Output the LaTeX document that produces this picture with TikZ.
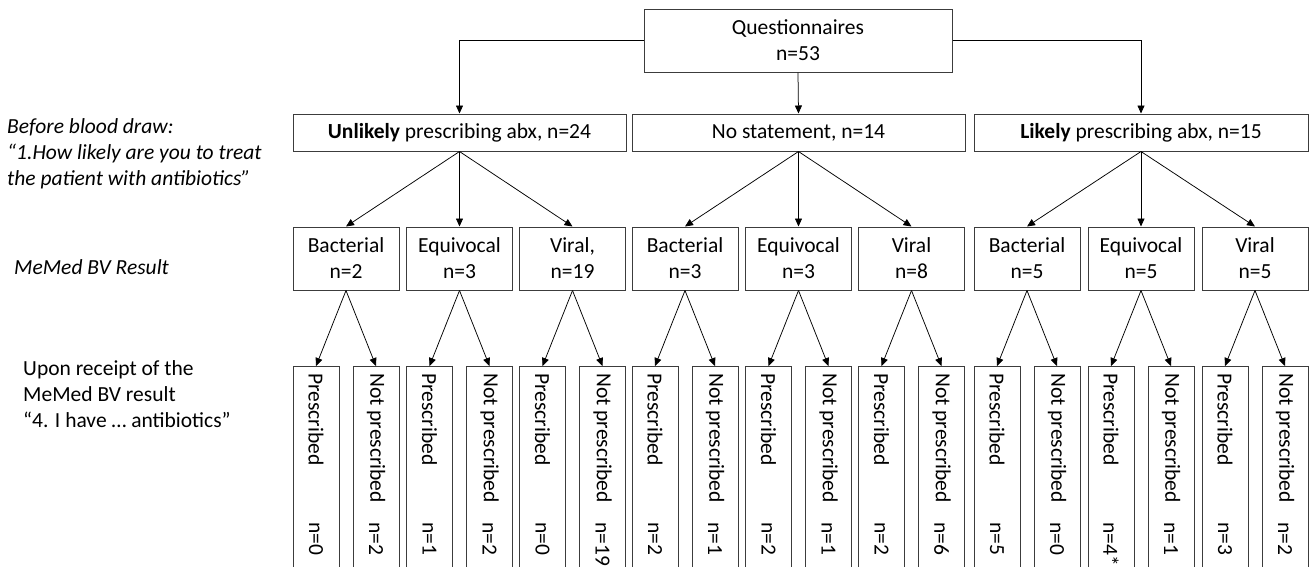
\documentclass[tikz,border=0pt]{standalone}
\usepackage{fontspec}
\setmainfont{Carlito}
\usetikzlibrary{arrows.meta}
\definecolor{boxline}{RGB}{60,60,60}
\tikzset{box/.style={draw=boxline,line width=1pt,minimum height=37,align=center,inner sep=0pt},
 tall/.style={draw=boxline,line width=1pt,minimum width=46,minimum height=240,anchor=north,inner sep=0pt},
 conn/.style={-{Triangle[length=8pt,width=7pt]},line width=0.75pt},
 vtext/.style={rotate=-90,anchor=west,inner sep=0pt},
 note/.style={anchor=west,align=left,inner sep=0pt,font=\fontsize{21.5}{26}\selectfont\itshape},
 every node/.style={font=\fontsize{21.5}{26}\selectfont}}

\begin{document}
\begin{tikzpicture}[x=1pt,y=-1pt]
\path[use as bounding box,clip] (0,0) rectangle (1310,566);
\node[box,minimum width=308,minimum height=63] (quest) at (798,40.5) {Questionnaires\\n=53};
% answer before blood draw
\node[box,minimum width=333] (unlikely) at (459.5,132.5) {\textbf{Unlikely} prescribing abx, n=24};
\node[box,minimum width=333] (nostat) at (798.5,132.5) {No statement, n=14};
\node[box,minimum width=334] (likely) at (1141,132.5) {\textbf{Likely} prescribing abx, n=15};
\draw[conn] (quest.west) -| (unlikely.north);
\draw[conn] (quest.south) -- (nostat.north);
\draw[conn] (quest.east) -| (likely.north);
% MeMed BV result
\foreach \x/\name/\parent/\txt in {346/ub/unlikely/{Bacterial\\n=2},459.5/ue/unlikely/{Equivocal\\n=3},
 572.5/uv/unlikely/{Viral,\\n=19},685/nb/nostat/{Bacterial\\n=3},798.5/ne/nostat/{Equivocal\\n=3},
 911.5/nv/nostat/{Viral\\n=8},1027/lb/likely/{Bacterial\\n=5},1141/le/likely/{Equivocal\\n=5},1255/lv/likely/{Viral\\n=5}}
{
 \node[box,minimum width=106,minimum height=63] (\name) at (\x,258.5) {\txt};
 \draw[conn] (\parent.south) -- (\name.north);
}
% prescribed after the result
\foreach \x/\name/\p/\np in {346/ub/0/2,459.5/ue/1/2,572.5/uv/0/19,685/nb/2/1,798.5/ne/2/1,
 911.5/nv/2/6,1027/lb/5/0,1141/le/4*/1,1255/lv/3/2}
{
 \node[tall] (\name p) at (\x-30,366) {};
 \node[tall] (\name n) at (\x+30,366) {};
 \draw[conn] (\name.south) -- (\name p.north);
 \draw[conn] (\name.south) -- (\name n.north);
 \node[vtext] at (\x-30,373) {Prescribed};
 \node[vtext] at (\x-30,522) {n=\p};
 \node[vtext] at (\x+30,373) {Not prescribed};
 \node[vtext] at (\x+30,522) {n=\np};
}
\node[note] (before) at (7,154) {Before blood draw:\\“1.How likely are you to treat\\the patient with antibiotics”};
\node[note] (bvlabel) at (14,267) {MeMed BV Result};
\node[anchor=west,align=left,inner sep=0pt] (upon) at (23,394) {Upon receipt of the\\MeMed BV result\\“4. I have … antibiotics”};
\end{tikzpicture}
\end{document}
